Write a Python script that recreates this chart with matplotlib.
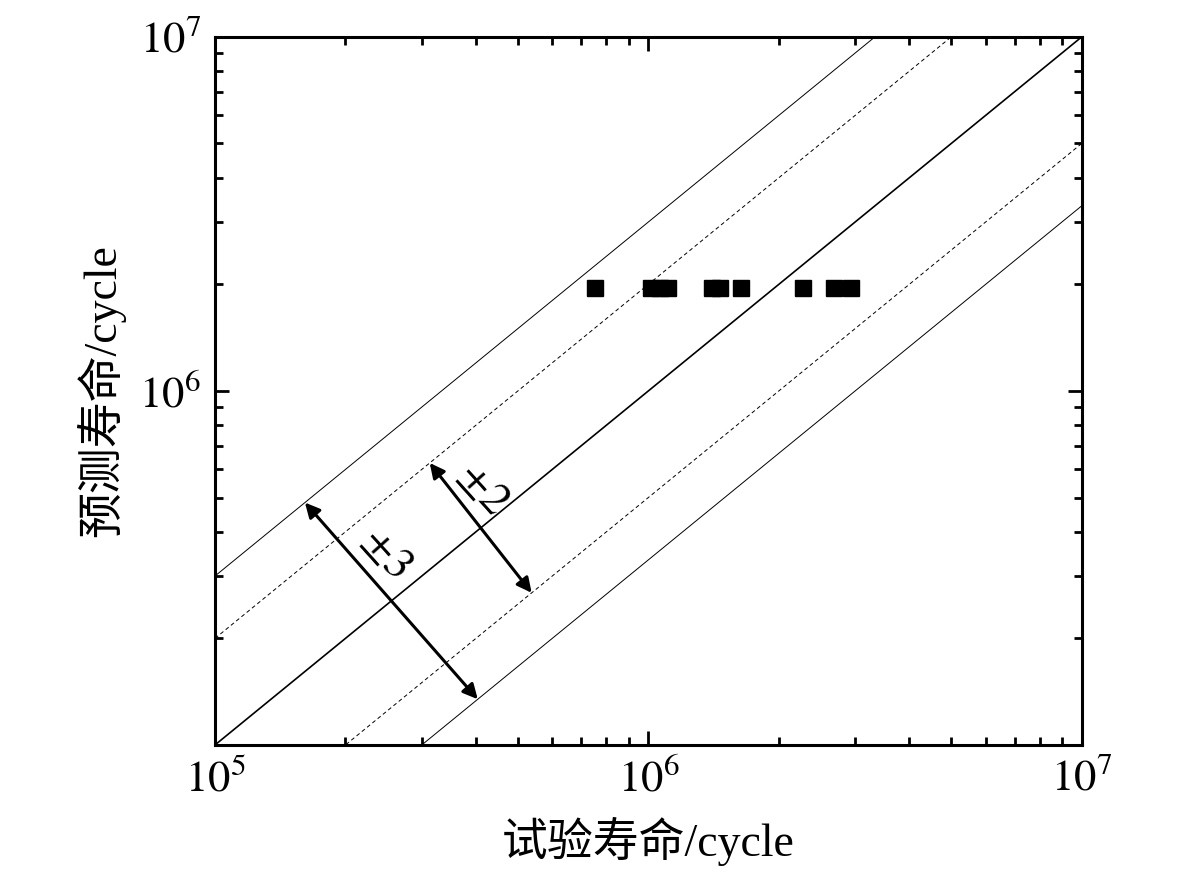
import numpy as np
import matplotlib
matplotlib.use('Agg')
import matplotlib.pyplot as plt
from matplotlib.ticker import LogLocator, NullFormatter, FuncFormatter

plt.rcParams['font.family'] = ['Liberation Serif', 'Noto Sans CJK SC']
plt.rcParams['mathtext.fontset'] = 'stix'

# experimental life vs predicted life (cycles)
test_life = [7.53e5, 1.013e6, 1.063e6, 1.109e6, 1.40e6, 1.46e6, 1.635e6,
             2.27e6, 2.68e6, 2.93e6]
pred_life = [1.95e6] * len(test_life)

# scatter band factors
band_factors = [1, 2, 0.5, 3, 1 / 3]
band_styles = ['-', '--', '--', '-', '-']
band_widths = [1.2, 0.7, 0.7, 0.7, 0.7]

# band arrows: (start x, end x, upper factor, lower factor, label)
arrows = [(1.613e5, 4.04e5, 3, 1 / 3, r'$\pm3$'),
          (3.13e5, 5.38e5, 2, 1 / 2, r'$\pm2$')]
label_offsets = [(-4, 34), (1, 28)]

xlim = (1e5, 1e7)
ylim = (1e5, 1e7)

fig = plt.figure(figsize=(11.81, 8.77), dpi=100)
ax = fig.add_axes([0.182, 0.1505, 0.734, 0.8075])

xs = np.array([1e4, 1e8])
for f, ls, lw in zip(band_factors, band_styles, band_widths):
    ax.plot(xs, xs * f, color='black', linestyle=ls, linewidth=lw,
            dashes=(4, 3) if ls == '--' else (None, None))

ax.plot(test_life, pred_life, linestyle='none', marker='s', markersize=11,
        color='black')

for (x0, x1, fu, fl, lab), off in zip(arrows, label_offsets):
    ax.annotate('', xy=(x1, x1 * fl), xytext=(x0, x0 * fu),
                arrowprops=dict(arrowstyle='<|-|>', color='black', lw=2.2,
                                mutation_scale=22, shrinkA=0, shrinkB=0))
    xm = np.sqrt(x0 * x1)
    ym = np.sqrt(x0 * fu * x1 * fl)
    ax.annotate(lab, xy=(xm, ym), xytext=off, textcoords='offset points',
                fontsize=33, rotation=-48, ha='center', va='center',
                rotation_mode='anchor')

ax.set_xscale('log')
ax.set_yscale('log')
ax.set_xlim(*xlim)
ax.set_ylim(*ylim)

def fmt(v, pos):
    e = int(round(np.log10(v)))
    return r'$10^{%d}$' % e

def yfmt(v, pos):
    if v < 1.5e5:
        return ''
    return fmt(v, pos)

ax.xaxis.set_major_formatter(FuncFormatter(fmt))
ax.yaxis.set_major_formatter(FuncFormatter(yfmt))
ax.xaxis.set_minor_locator(LogLocator(base=10, subs=np.arange(2, 10)))
ax.yaxis.set_minor_locator(LogLocator(base=10, subs=np.arange(2, 10)))
ax.xaxis.set_minor_formatter(NullFormatter())
ax.yaxis.set_minor_formatter(NullFormatter())

ax.tick_params(which='both', direction='in', top=True, right=True,
               labelsize=32, width=2)
ax.tick_params(which='major', length=10, pad=10)
ax.tick_params(which='minor', length=6)
for s in ax.spines.values():
    s.set_linewidth(2.2)

ax.set_xlabel('试验寿命/cycle', fontsize=33, labelpad=12)
ax.set_ylabel('预测寿命/cycle', fontsize=33, labelpad=10)

fig.savefig('out.png', dpi=100)
